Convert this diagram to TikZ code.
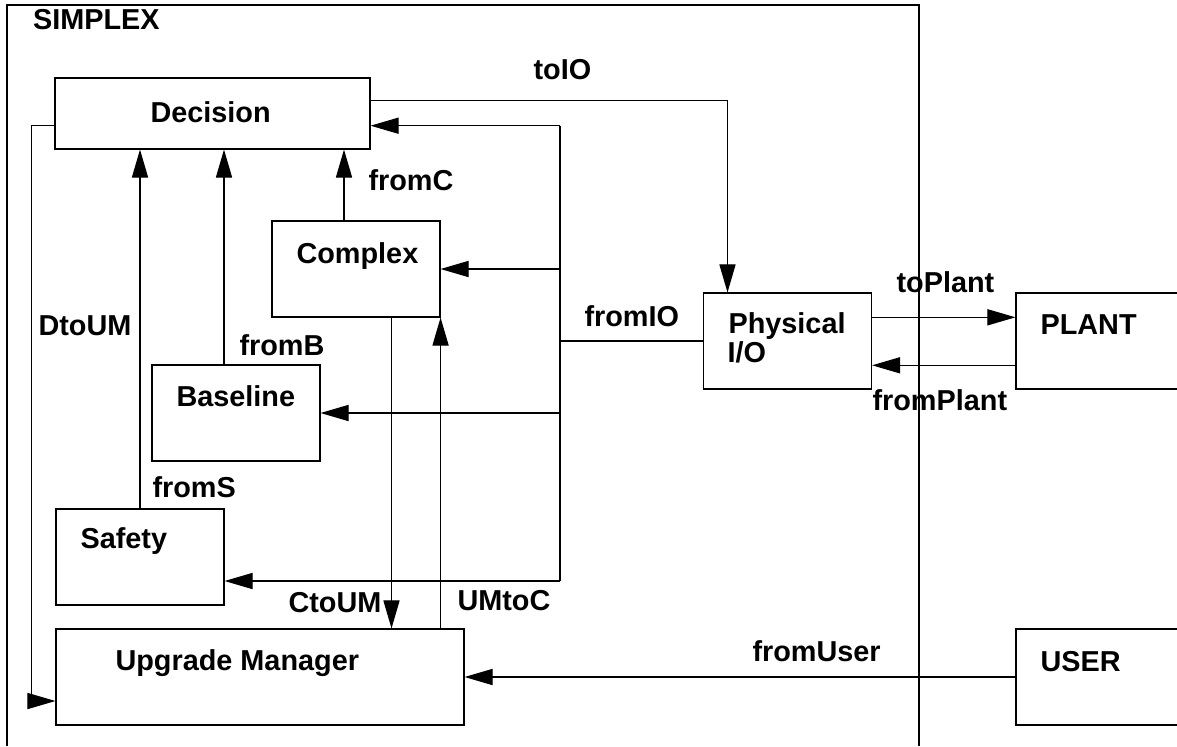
\documentclass[tikz,border=0pt]{standalone}
\usepackage{fontspec}
\setmainfont{Liberation Sans}
\usetikzlibrary{arrows.meta}

\begin{document}
\begin{tikzpicture}
      [x=0.025cm, y=-0.025cm, line width=0.8pt,
        box/.style 2 args={draw, inner sep=0pt, minimum width=#1*0.025cm, minimum height=#2*0.025cm},
          lbl/.style={anchor=base west, inner sep=0pt, font=\fontsize{20.5}{23}\selectfont\bfseries},
            arr/.style={-{Triangle[length=20pt,width=11.5pt]}}]
      \useasboundingbox (0,0) rectangle (1177,746);
      \clip (0,0) rectangle (1177,746);
      \draw (7,746) |- (919,5) -- (919,746);
      \node[lbl] (t-simplex) at (32.5,29.5) {SIMPLEX};
      \node[box={315}{71}] (dec) at (212.5,113.5) {};
      \node[box={168}{96}] (cpx) at (356,269) {};
      \node[box={168}{96}] (bas) at (236,413) {};
      \node[box={168}{96}] (saf) at (140,557) {};
      \node[box={408}{96}] (um) at (260,677) {};
      \node[box={168}{96}] (phys) at (787.5,341) {};
      \node[box={184}{96}] (plant) at (1108,341) {};
      \node[box={184}{96}] (user) at (1108,677) {};
      \node[lbl] (t-dec) at (150,122.7) {Decision};
      \node[lbl] (t-cpx) at (296,263.5) {Complex};
      \node[lbl] (t-bas) at (176,406.7) {Baseline};
      \node[lbl] (t-saf) at (80,548) {Safety};
      \node[lbl] (t-um) at (115,670.7) {Upgrade Manager};
      \node[lbl] (t-phys) at (728,333) {Physical};
      \node[lbl] (t-io) at (727,362.7) {I/O};
      \node[lbl] (t-plant) at (1040,334) {PLANT};
      \node[lbl] (t-user) at (1040,671) {USER};
      \coordinate (bus-top) at (560,125.7);
      \coordinate (bus-bot) at (560,581);
      \coordinate (toio) at (727.5,100.7);
      \coordinate (dtoum-a) at (31.8,125.7);
      \coordinate (dtoum-b) at (31.8,701);
      \coordinate (fromb) at (224,300);
      \coordinate (fromc) at (344,200);
      \coordinate (ctoum) at (391.5,500);
      \coordinate (toplant) at (950,317.3);
      \coordinate (fromplant) at (950,365.3);
      \draw[arr] (dec.east |- toio) -- (toio) -- (toio |- phys.north);
      \draw (bus-top) -- (bus-bot);
      \draw[arr] (bus-top) -- (dec.east |- bus-top);
      \draw[arr] (cpx.east -| bus-top) -- (cpx.east);
      \draw[arr] (bas.east -| bus-top) -- (bas.east);
      \draw[arr] (bus-bot) -- (saf.east |- bus-bot);
      \draw (phys.west) -- (phys.west -| bus-top);
      \draw[arr] (saf.north) -- (saf.north |- dec.south);
      \draw[arr] (fromb |- bas.north) -- (fromb |- dec.south);
      \draw[arr] (fromc |- cpx.north) -- (fromc |- dec.south);
      \draw[arr] (dec.west |- dtoum-a) -- (dtoum-a) -- (dtoum-b) -- (um.west |- dtoum-b);
      \draw[arr] (ctoum |- cpx.south) -- (ctoum |- um.north);
      \draw[arr] (um.north -| cpx.south east) -- (cpx.south east);
      \draw[arr] (phys.east |- toplant) -- (plant.west |- toplant);
      \draw[arr] (plant.west |- fromplant) -- (phys.east |- fromplant);
      \draw[arr] (user.west) -- (um.east);
      \node[lbl] (l-toio) at (533,79) {toIO};
      \node[lbl] (l-fromc) at (368,190) {fromC};
      \node[lbl] (l-dtoum) at (38,335) {DtoUM};
      \node[lbl] (l-fromb) at (239,355) {fromB};
      \node[lbl] (l-froms) at (152,497) {fromS};
      \node[lbl] (l-ctoum) at (288,612.7) {CtoUM};
      \node[lbl] (l-umtoc) at (457,610.7) {UMtoC};
      \node[lbl] (l-fromio) at (584,326) {fromIO};
      \node[lbl] (l-toplant) at (896,292.7) {toPlant};
      \node[lbl] (l-fromplant) at (872,410.7) {fromPlant};
      \node[lbl] (l-fromuser) at (752,661.7) {fromUser};
    \end{tikzpicture}
\end{document}
